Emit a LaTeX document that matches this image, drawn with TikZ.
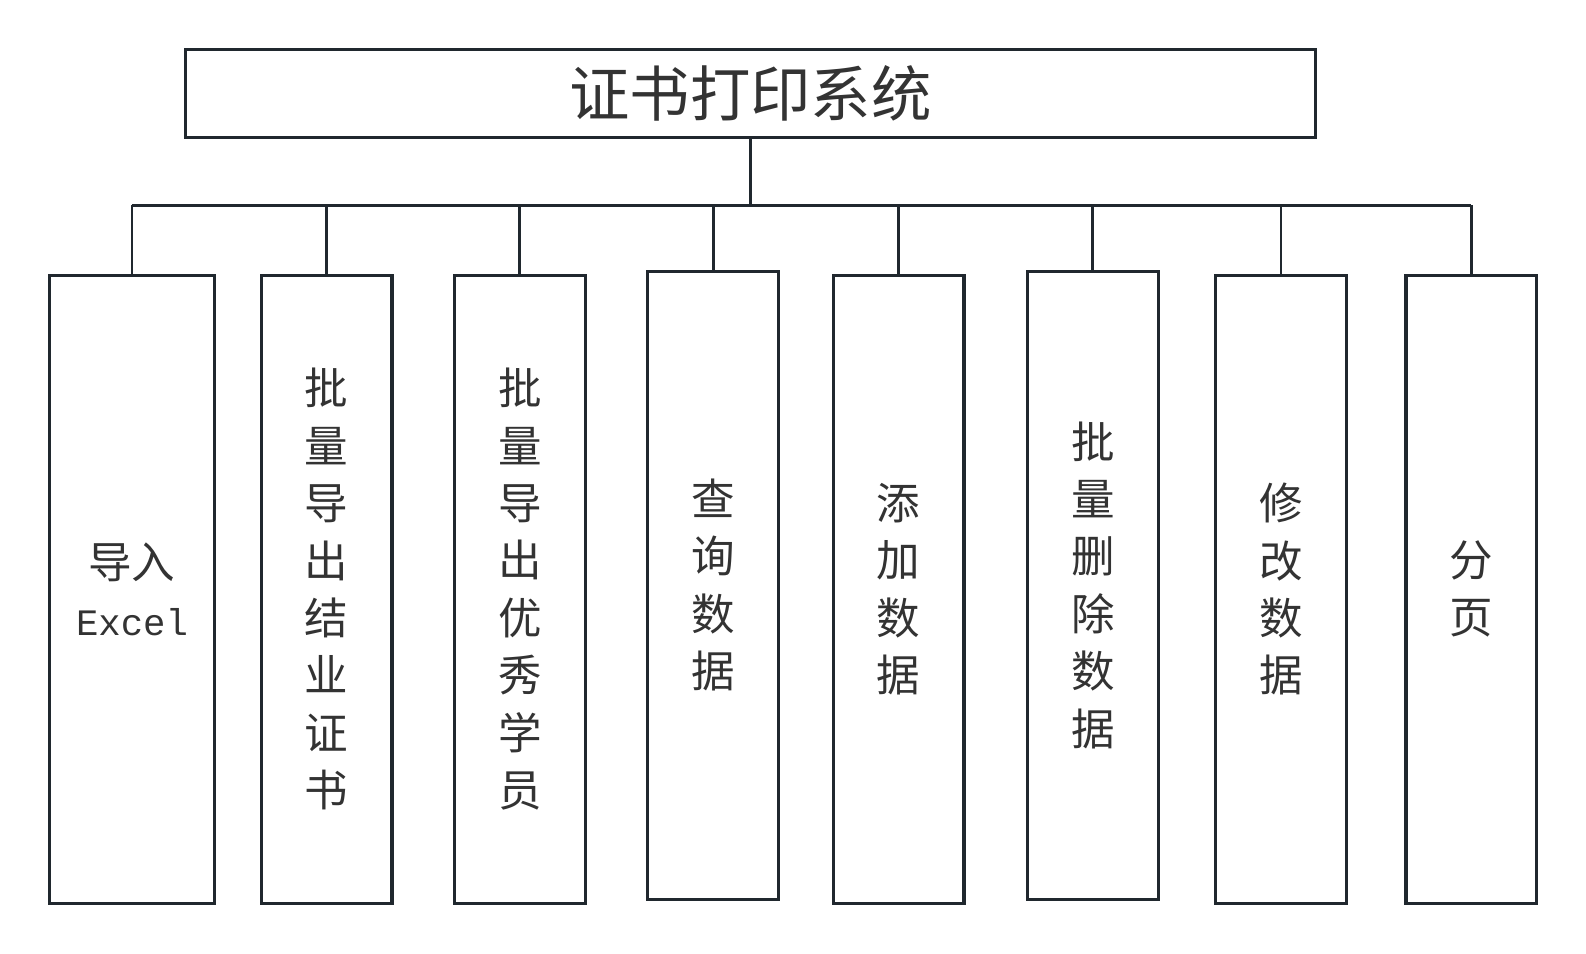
\documentclass[tikz,border=0pt]{standalone}
\usepackage{fontspec}
\newfontfamily\cjk{Noto Sans CJK SC}
\newfontfamily\monofont{Liberation Mono}
\usetikzlibrary{positioning, calc}
\definecolor{edge}{HTML}{20282E}
\definecolor{ink}{HTML}{333333}

\tikzset{
  rootbox/.style={draw=edge, line width=1.8pt, minimum width=22.36cm, minimum height=1.74cm,
        inner sep=0pt, font=\cjk\fontsize{34}{40}\selectfont, text=ink},
  leafbox/.style={draw=edge, line width=1.8pt, minimum width=2.58cm, minimum height=12.42cm,
        inner sep=0pt, align=center, font=\cjk\fontsize{24.5}{32.3}\selectfont, text=ink},
  link/.style={draw=edge, line width=1.6pt}
}

\begin{document}
\begin{tikzpicture}[x=0.02cm, y=-0.02cm]
  \useasboundingbox (0,0) rectangle (1568,943);

  % Root of the tree
  \node[rootbox] (root) at (742,92.5) {证书打印系统};

  % Leaf modules
  \node[leafbox, minimum width=3.26cm] (imp) at (130.5,582.5)
    {导入\\{\monofont\fontsize{21}{32.3}\selectfont Excel}};
  \node[leafbox] (grad) at (323,582.5) {批\\量\\导\\出\\结\\业\\证\\书};
  \node[leafbox] (best) at (514,582.5) {批\\量\\导\\出\\优\\秀\\学\\员};
  \node[leafbox] (query) at (705,578.5) {查\\询\\数\\据};
  \node[leafbox] (add) at (888.5,582.5) {添\\加\\数\\据};
  \node[leafbox] (del) at (1080.5,578.5) {批\\量\\删\\除\\数\\据};
  \node[leafbox] (edit) at (1266.5,582.5) {修\\改\\数\\据};
  \node[leafbox] (page) at (1454.5,582.5) {分\\页};

  % Bus connectors
  \coordinate (bus) at (0,203);
  \draw[link] (root.south) -- (root.south |- bus);
  \draw[link] (imp.north |- bus) -- (page.north |- bus);
  \foreach \n in {imp, grad, best, query, add, del, edit, page}
    \draw[link] (\n.north) -- (\n.north |- bus);
\end{tikzpicture}
\end{document}
